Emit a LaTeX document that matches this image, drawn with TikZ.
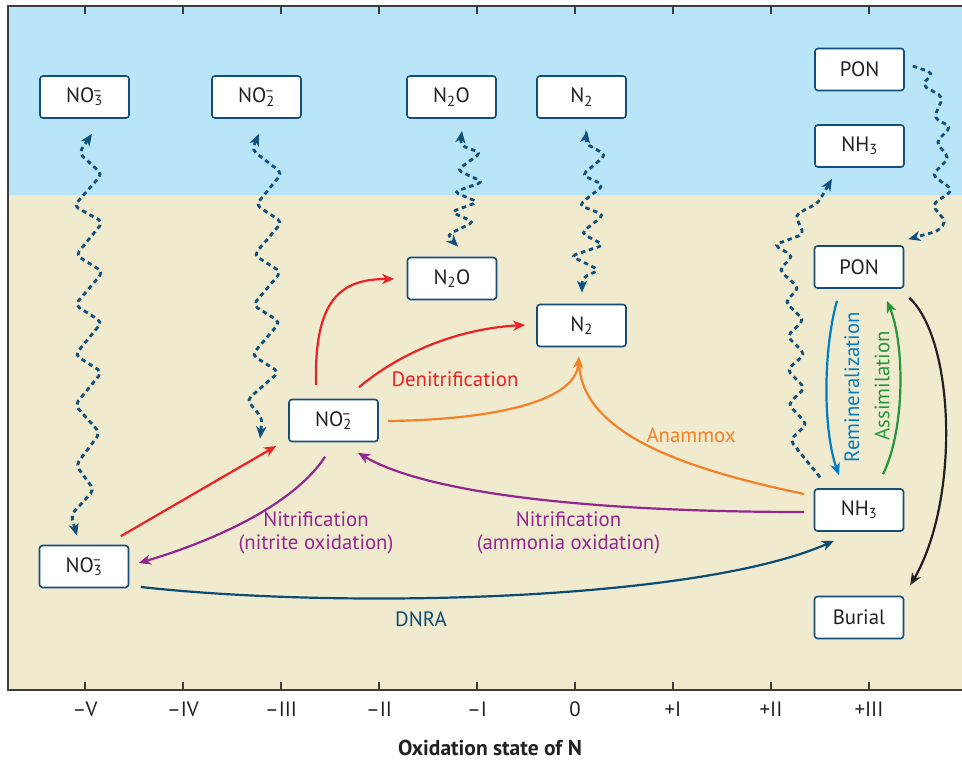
\documentclass[tikz,border=0pt]{standalone}
\usepackage{fontspec}
\setmainfont{PT Sans}
\usetikzlibrary{arrows.meta,calc}
\definecolor{sky}{RGB}{185,229,248}
\definecolor{sand}{RGB}{240,234,207}
\definecolor{boxblue}{RGB}{20,78,120}
\definecolor{dotblue}{RGB}{15,80,125}
\definecolor{denred}{RGB}{237,34,36}
\definecolor{anaorange}{RGB}{245,128,37}
\definecolor{nitpurple}{RGB}{146,39,143}
\definecolor{dnrablue}{RGB}{12,76,115}
\definecolor{reminblue}{RGB}{0,125,197}
\definecolor{assimgreen}{RGB}{37,150,60}
\definecolor{blk}{RGB}{35,31,32}
\definecolor{framegray}{RGB}{60,60,60}
\newcommand{\ionsub}[2]{\textsubscript{#1}\llap{\textsuperscript{#2}}}
\tikzset{
  box/.style={draw=boxblue, line width=1.6pt, fill=white, rounded corners=3pt,
    minimum width=89pt, minimum height=42pt, inner sep=0pt, text=blk},
  framestyle/.style={draw=framegray, line width=1.4pt},
  axlab/.style={text=blk, inner sep=1pt},
  tipS/.style={-{Stealth[length=12pt,width=10pt,inset=3.5pt]}},
  tipD/.style={{Stealth[length=12pt,width=10pt,inset=3.5pt]}-{Stealth[length=12pt,width=10pt,inset=3.5pt]}},
  wavy/.style={draw=dotblue, line width=2.8pt, dash pattern=on 4.5pt off 3.8pt, rounded corners=5pt},
  flow/.style={line width=2.2pt},
  lab/.style={inner sep=1pt, align=center},
}
\begin{document}
\begin{tikzpicture}[x=1pt,y=-1pt, font=\fontsize{20.8}{23}\selectfont]
\useasboundingbox (0,0) rectangle (962,760);
\fill[white] (0,0) rectangle (962,760);
\fill[sky] (8,6) rectangle (962,195);
\fill[sand] (8,195) rectangle (962,690);
\draw[framestyle] (962,6) -- (8,6) -- (8,690) -- (962,690);
\foreach \i/\l in {0/–V,1/–IV,2/–III,3/–II,4/–I,5/0,6/+I,7/+II,8/+III} {
  \draw[framestyle] (85+98*\i,6) -- ++(0,8);
  \draw[framestyle] (85+98*\i,690) -- ++(0,-8);
  \node[axlab] (ax\i) at (85+98*\i,709) {\l};
}
\node[font=\bfseries\fontsize{21.5}{24}\selectfont, text=blk, inner sep=0pt] (title) at (490,748) {Oxidation state of N};

% water column boxes
\node[box] (no3t) at (84.5,97) {NO\ionsub{3}{–}};
\node[box] (no2t) at (256.5,97) {NO\ionsub{2}{–}};
\node[box] (n2ot) at (451.5,97) {N\textsubscript{2}O};
\node[box] (n2t) at (581.5,97) {N\textsubscript{2}};
\node[box] (pont) at (859.5,69.5) {PON};
\node[box] (nh3t) at (859.5,146) {NH\textsubscript{3}};
% sediment boxes
\node[box] (n2os) at (452,278.5) {N\textsubscript{2}O};
\node[box] (n2s) at (581.5,325.5) {N\textsubscript{2}};
\node[box] (no2s) at (333.5,420.5) {NO\ionsub{2}{–}};
\node[box] (no3s) at (84,566.5) {NO\ionsub{3}{–}};
\node[box] (pons) at (859,267) {PON};
\node[box] (nh3s) at (859,510) {NH\textsubscript{3}};
\node[box] (burial) at (859,617.5) {Burial};

% wavy exchange arrows (zigzag with rounded turns)
\draw[wavy, tipD] ($(no3t.south)+(7.5,15)$) -- (79,153) -- (102,174) -- (74,206) -- (103,222)
  -- (76,255) -- (103,272) -- (75,305) -- (102,322) -- (75,355) -- (102,372) -- (75,405)
  -- (100,433) -- (76,465) -- (94,490) -- (71,515) -- ($(no3s.north)+(-7,-9)$);
\draw[wavy, tipD] ($(no2t.south)+(2.5,15)$) -- (252,150) -- (282,173) -- (256,205) -- (282,222)
  -- (254,255) -- (281,272) -- (253,305) -- (280,322) -- (252,355) -- (279,372) -- (247,400)
  -- (262,418) -- ($(no2s.west)+(-28,18)$);
\draw[wavy, tipD] ($(n2ot.south)+(10.5,12)$) -- (460,145) -- (481,153) -- (457,170) -- (483,182)
  -- (454,192) -- (478,202) -- (451,212) -- (474,222) -- (447,235) -- ($(n2os.north)+(6,-10)$);
\draw[wavy, tipD] ($(n2t.south)+(5.5,12)$) -- (585,143) -- (606,155) -- (582,175) -- (604,185)
  -- (579,205) -- (604,215) -- (581,233) -- (604,245) -- (571,256) -- (599,270) -- (582,278)
  -- ($(n2s.north)+(0.5,-11)$);
\draw[wavy, tipS] ($(nh3s.north)+(-39,-11)$) -- (806,460) -- (790,440) -- (807,424) -- (788,404)
  -- (805,388) -- (787,370) -- (805,354) -- (787,336) -- (804,320) -- (785,302) -- (799,288)
  -- (779,270) -- (793,256) -- (774,245) -- (804,234) -- (795,215) -- (818,203)
  -- ($(nh3t.south)+(-27.5,11)$);
\draw[wavy, tipS] ($(pont.east)+(8,-3.5)$) -- (933,73) -- (922,85) -- (943,97) -- (934,118)
  -- (951,127) -- (936,142) -- (949,158) -- (932,175) -- (953,190) -- (932,205) -- (946,222)
  -- (938,231) -- ($(pons.north east)+(4,-6)$);

% denitrification
\draw[flow, denred, tipS] ($(no3s.north east)+(-8.5,-8.5)$) -- ($(no2s.west)+(-12,25.5)$);
\draw[flow, denred, tipS] ($(no2s.north)+(-17.5,-13.5)$) .. controls (314,300) and (340,279) .. ($(n2os.west)+(-12.5,0.5)$);
\draw[flow, denred, tipS] ($(no2s.north)+(25.5,-11.5)$) .. controls (410,345) and (470,328) .. ($(n2s.west)+(-11,-0.5)$);
\node[lab, text=denred] (denlab) at (455,379) {Denitrification};

% anammox
\draw[flow, anaorange, tipS] ($(no2s.east)+(9,0.5)$) .. controls (480,420) and (575,405) .. ($(n2s.south)+(-2.5,9)$);
\draw[flow, anaorange] ($(nh3s.west)+(-9.5,-16)$) .. controls (690,470) and (578,435) .. ($(n2s.south)+(-2.5,12)$);
\node[lab, text=anaorange] (analab) at (691,435) {Anammox};

% nitrification
\draw[flow, nitpurple, tipS] ($(nh3s.west)+(-9.5,2)$) .. controls (600,512) and (430,495) .. ($(no2s.south)+(24.5,10.5)$);
\draw[flow, nitpurple, tipS] ($(no2s.south)+(-8.5,14.5)$) .. controls (290,510) and (200,545) .. ($(no3s.east)+(9.5,-3.5)$);
\node[lab, text=nitpurple] (nitlab1) at (316,533) {Nitrification\\(nitrite oxidation)};
\node[lab, text=nitpurple] (nitlab2) at (568.5,533) {Nitrification\\(ammonia oxidation)};

% DNRA
\draw[flow, dnrablue, tipS] ($(no3s.east)+(11.5,20.5)$) .. controls (350,610) and (700,600) .. ($(nh3s.south)+(-25,9)$);
\node[lab, text=dnrablue] (dnralab) at (421,619) {DNRA};

% remineralization / assimilation / burial
\draw[flow, reminblue, tipS] ($(pons.south)+(-22,12)$) .. controls (823,350) and (823,430) .. ($(nh3s.north)+(-20,-13)$);
\node[lab, text=reminblue, rotate=90] (reminlab) at (852,387) {Remineralization};
\draw[flow, assimgreen, tipS] ($(nh3s.north)+(24,-14)$) .. controls (905,430) and (905,345) .. ($(pons.south)+(28,12)$);
\node[lab, text=assimgreen, rotate=90] (assimlab) at (882,386) {Assimilation};
\draw[flow, blk, tipS] ($(pons.south east)+(5,9)$) .. controls (955,340) and (960,500) .. ($(burial.north east)+(6,-10.5)$);
\end{tikzpicture}
\end{document}
